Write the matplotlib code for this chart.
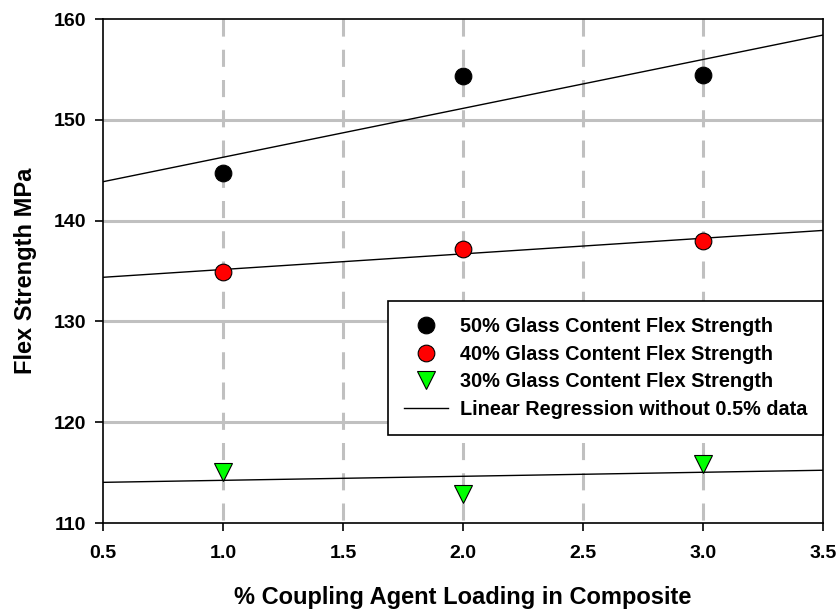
import numpy as np
import matplotlib
matplotlib.use("Agg")
import matplotlib.pyplot as plt
from matplotlib.lines import Line2D

plt.rcParams['font.family'] = ['Liberation Sans', 'DejaVu Sans']
plt.rcParams['font.weight'] = 'bold'

x = [1.0, 2.0, 3.0]
glass50 = [144.7, 154.3, 154.4]
glass40 = [134.9, 137.2, 138.0]
glass30 = [115.1, 112.9, 115.9]
labels = ["50% Glass Content Flex Strength",
          "40% Glass Content Flex Strength",
          "30% Glass Content Flex Strength",
          "Linear Regression without 0.5% data"]

fig = plt.figure(figsize=(8.38, 6.09), dpi=100)
ax = fig.add_axes([103/838, 1 - 523/609, (823-103)/838, (523-19)/609])

ax.set_xlim(0.5, 3.5)
ax.set_ylim(110, 160)
ax.set_xticks([0.5, 1.0, 1.5, 2.0, 2.5, 3.0, 3.5])
ax.set_yticks([110, 120, 130, 140, 150, 160])
ax.xaxis.set_major_formatter(matplotlib.ticker.FormatStrFormatter('%.1f'))

for xv in [1.0, 1.5, 2.0, 2.5, 3.0]:
    ax.axvline(xv, ymin=1, ymax=0, color='#c0c0c0', lw=2.2, dashes=(5.6, 4.3), zorder=1)
for yv in [120, 130, 140, 150]:
    ax.axhline(yv, color='#c0c0c0', lw=2.2, zorder=1)

xx = np.array([0.5, 3.5])
for ys in [glass50, glass40, glass30]:
    k, b = np.polyfit(x, ys, 1)
    ax.plot(xx, k * xx + b, color='black', lw=1.0, zorder=2)

ax.plot(x, glass50, 'o', ms=12, mfc='black', mec='black', mew=0.8, zorder=3)
ax.plot(x, glass40, 'o', ms=12, mfc='#ff0000', mec='black', mew=0.8, zorder=3)
ax.plot(x, glass30, 'v', ms=13, mfc='#00ff00', mec='black', mew=0.8, zorder=3)

ax.tick_params(direction='out', length=6, width=1.2, labelsize=14,
               top=False, right=False)
ax.tick_params(axis='x', pad=10)
ax.tick_params(axis='y', pad=6)
for s in ax.spines.values():
    s.set_linewidth(1.2)

ax.set_xlabel('% Coupling Agent Loading in Composite', fontsize=17, fontweight='bold', labelpad=17)
ax.set_ylabel('Flex Strength MPa', fontsize=17, fontweight='bold', labelpad=12)

handles = [
    Line2D([], [], ls='none', marker='o', ms=12, mfc='black', mec='black', mew=0.8),
    Line2D([], [], ls='none', marker='o', ms=12, mfc='#ff0000', mec='black', mew=0.8),
    Line2D([], [], ls='none', marker='v', ms=13, mfc='#00ff00', mec='black', mew=0.8),
    Line2D([], [], color='black', lw=1.0),
]
leg = ax.legend(handles, labels, loc='upper right', bbox_to_anchor=(1.0, (523-301)/504),
                fontsize=14.3, frameon=True, fancybox=False, edgecolor='black',
                framealpha=1, borderaxespad=0, handlelength=2.2, handletextpad=0.6,
                labelspacing=0.44, borderpad=0.8)
leg.get_frame().set_linewidth(1.2)

fig.savefig('out.png', dpi=100)
